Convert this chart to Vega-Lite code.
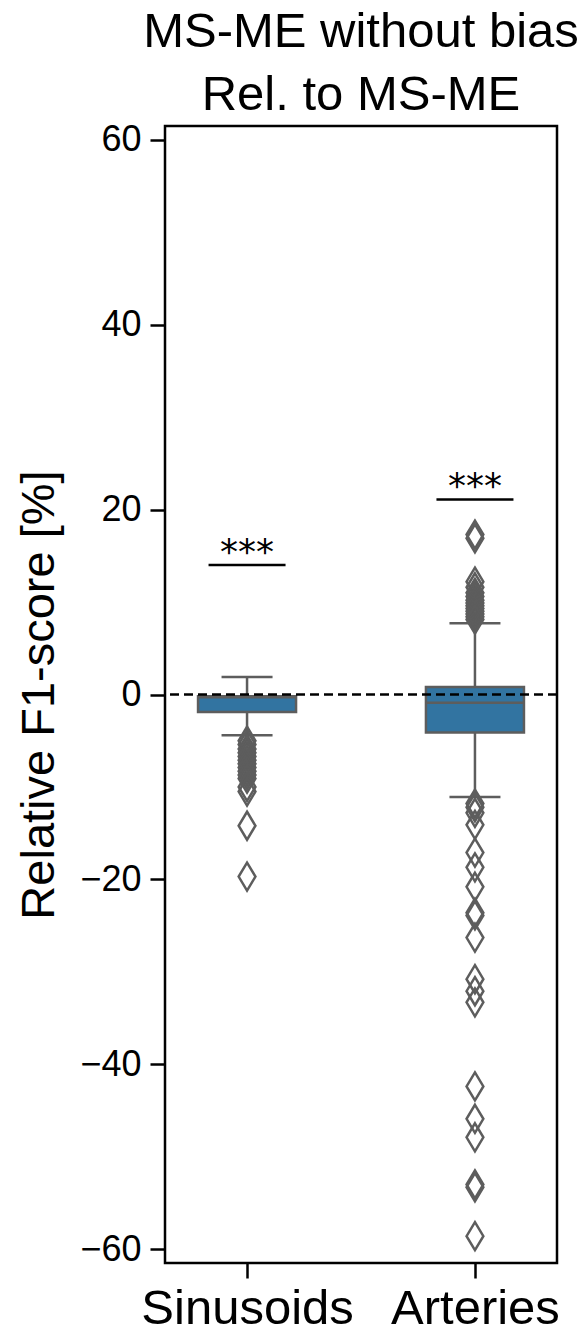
{
  "$schema": "https://vega.github.io/schema/vega-lite/v6.json",
  "autosize": "none",
  "width": 392,
  "height": 1137,
  "padding": {"left": 165, "top": 126, "right": 30, "bottom": 69},
  "background": "white",
  "config": {
    "font": "Liberation Sans",
    "view": {"stroke": "black", "strokeWidth": 2.5},
    "axis": {"grid": false}
  },
  "title": {
    "text": ["MS-ME without bias", "Rel. to MS-ME"],
    "fontSize": 49,
    "fontWeight": "normal",
    "font": "Liberation Sans",
    "color": "black",
    "lineHeight": 63,
    "anchor": "middle",
    "frame": "group",
    "baseline": "bottom",
    "offset": -47
  },
  "datasets": {
    "boxes": [
      {"cat": "Sinusoids", "lower": -4.4, "q1": -1.9, "median": -0.3, "q3": -0.2, "upper": 1.9},
      {"cat": "Arteries", "lower": -11.1, "q1": -4.1, "median": -0.9, "q3": 0.8, "upper": 7.7}
    ],
    "outliers": [
      {"cat": "Sinusoids", "v": -5.0},
      {"cat": "Sinusoids", "v": -5.4},
      {"cat": "Sinusoids", "v": -5.9},
      {"cat": "Sinusoids", "v": -6.3},
      {"cat": "Sinusoids", "v": -6.7},
      {"cat": "Sinusoids", "v": -7.1},
      {"cat": "Sinusoids", "v": -7.5},
      {"cat": "Sinusoids", "v": -7.9},
      {"cat": "Sinusoids", "v": -8.3},
      {"cat": "Sinusoids", "v": -8.7},
      {"cat": "Sinusoids", "v": -9.1},
      {"cat": "Sinusoids", "v": -10.0},
      {"cat": "Sinusoids", "v": -10.5},
      {"cat": "Sinusoids", "v": -14.2},
      {"cat": "Sinusoids", "v": -19.7},
      {"cat": "Arteries", "v": 16.9},
      {"cat": "Arteries", "v": 17.3},
      {"cat": "Arteries", "v": 12.2},
      {"cat": "Arteries", "v": 11.6},
      {"cat": "Arteries", "v": 11.0},
      {"cat": "Arteries", "v": 10.6},
      {"cat": "Arteries", "v": 10.2},
      {"cat": "Arteries", "v": 9.9},
      {"cat": "Arteries", "v": 9.6},
      {"cat": "Arteries", "v": 9.3},
      {"cat": "Arteries", "v": 9.0},
      {"cat": "Arteries", "v": 8.7},
      {"cat": "Arteries", "v": 8.4},
      {"cat": "Arteries", "v": 8.1},
      {"cat": "Arteries", "v": -11.8},
      {"cat": "Arteries", "v": -12.2},
      {"cat": "Arteries", "v": -12.8},
      {"cat": "Arteries", "v": -14.1},
      {"cat": "Arteries", "v": -17.1},
      {"cat": "Arteries", "v": -18.7},
      {"cat": "Arteries", "v": -20.8},
      {"cat": "Arteries", "v": -23.6},
      {"cat": "Arteries", "v": -23.9},
      {"cat": "Arteries", "v": -26.3},
      {"cat": "Arteries", "v": -30.8},
      {"cat": "Arteries", "v": -32.1},
      {"cat": "Arteries", "v": -33.3},
      {"cat": "Arteries", "v": -42.4},
      {"cat": "Arteries", "v": -45.9},
      {"cat": "Arteries", "v": -47.9},
      {"cat": "Arteries", "v": -53.0},
      {"cat": "Arteries", "v": -53.3},
      {"cat": "Arteries", "v": -58.6}
    ],
    "sig": [
      {"cat": "Sinusoids", "y": 14.0, "label": "***"},
      {"cat": "Arteries", "y": 21.1, "label": "***"}
    ],
    "zero": [{"y": 0}]
  },
  "encoding": {
    "x": {
      "field": "cat",
      "type": "nominal",
      "scale": {"type": "point", "domain": ["Sinusoids", "Arteries"], "padding": 0.36},
      "axis": {
        "title": null,
        "labelFontSize": 49,
        "labelColor": "black",
        "labelAngle": 0,
        "labelPadding": 6,
        "labelLimit": 0,
        "labelOverlap": false,
        "tickSize": 15,
        "tickWidth": 2.5,
        "tickColor": "black",
        "domain": false
      }
    }
  },
  "layer": [
    {
      "data": {"name": "boxes"},
      "mark": {"type": "rule", "color": "#5d5d5d", "strokeWidth": 2.5},
      "encoding": {
        "y": {
          "field": "lower",
          "type": "quantitative",
          "scale": {"domain": [-61.5, 61.5], "nice": false, "zero": false},
          "axis": {
            "title": "Relative F1-score [%]",
            "titleFontSize": 47,
            "titleFontWeight": "normal",
            "titleColor": "black",
            "titlePadding": 16,
            "values": [-60, -40, -20, 0, 20, 40, 60],
            "labelFontSize": 36,
            "labelColor": "black",
            "labelPadding": 9,
            "tickSize": 15,
            "tickWidth": 2.5,
            "tickColor": "black",
            "domain": false
          }
        },
        "y2": {"field": "upper"}
      }
    },
    {
      "data": {"name": "boxes"},
      "mark": {"type": "bar", "size": 98, "fill": "#3274a1", "stroke": "#5d5d5d", "strokeWidth": 2.5},
      "encoding": {
        "y": {"field": "q1", "type": "quantitative"},
        "y2": {"field": "q3"}
      }
    },
    {
      "data": {"name": "boxes"},
      "mark": {"type": "tick", "size": 98, "thickness": 2.5, "color": "#5d5d5d", "opacity": 1},
      "encoding": {"y": {"field": "median", "type": "quantitative"}}
    },
    {
      "data": {"name": "boxes"},
      "mark": {"type": "tick", "size": 51, "thickness": 2.5, "color": "#5d5d5d", "opacity": 1},
      "encoding": {"y": {"field": "lower", "type": "quantitative"}}
    },
    {
      "data": {"name": "boxes"},
      "mark": {"type": "tick", "size": 51, "thickness": 2.5, "color": "#5d5d5d", "opacity": 1},
      "encoding": {"y": {"field": "upper", "type": "quantitative"}}
    },
    {
      "data": {"name": "outliers"},
      "mark": {
        "type": "point",
        "shape": "M0,-1L0.6,0L0,1L-0.6,0Z",
        "size": 784,
        "filled": false,
        "stroke": "#5d5d5d",
        "strokeWidth": 2.5,
        "opacity": 1
      },
      "encoding": {"y": {"field": "v", "type": "quantitative"}}
    },
    {
      "data": {"name": "zero"},
      "mark": {"type": "rule", "color": "black", "strokeWidth": 2.5, "strokeDash": [9, 5]},
      "encoding": {"y": {"field": "y", "type": "quantitative"}, "x": null}
    },
    {
      "data": {"name": "sig"},
      "mark": {"type": "tick", "size": 77, "thickness": 2.5, "color": "black", "opacity": 1},
      "encoding": {"y": {"field": "y", "type": "quantitative"}}
    },
    {
      "data": {"name": "sig"},
      "mark": {"type": "text", "font": "DejaVu Sans", "fontSize": 36, "baseline": "alphabetic", "align": "center", "dy": -1, "letterSpacing": 3, "color": "black"},
      "encoding": {"y": {"field": "y", "type": "quantitative"}, "text": {"field": "label"}}
    }
  ]
}
